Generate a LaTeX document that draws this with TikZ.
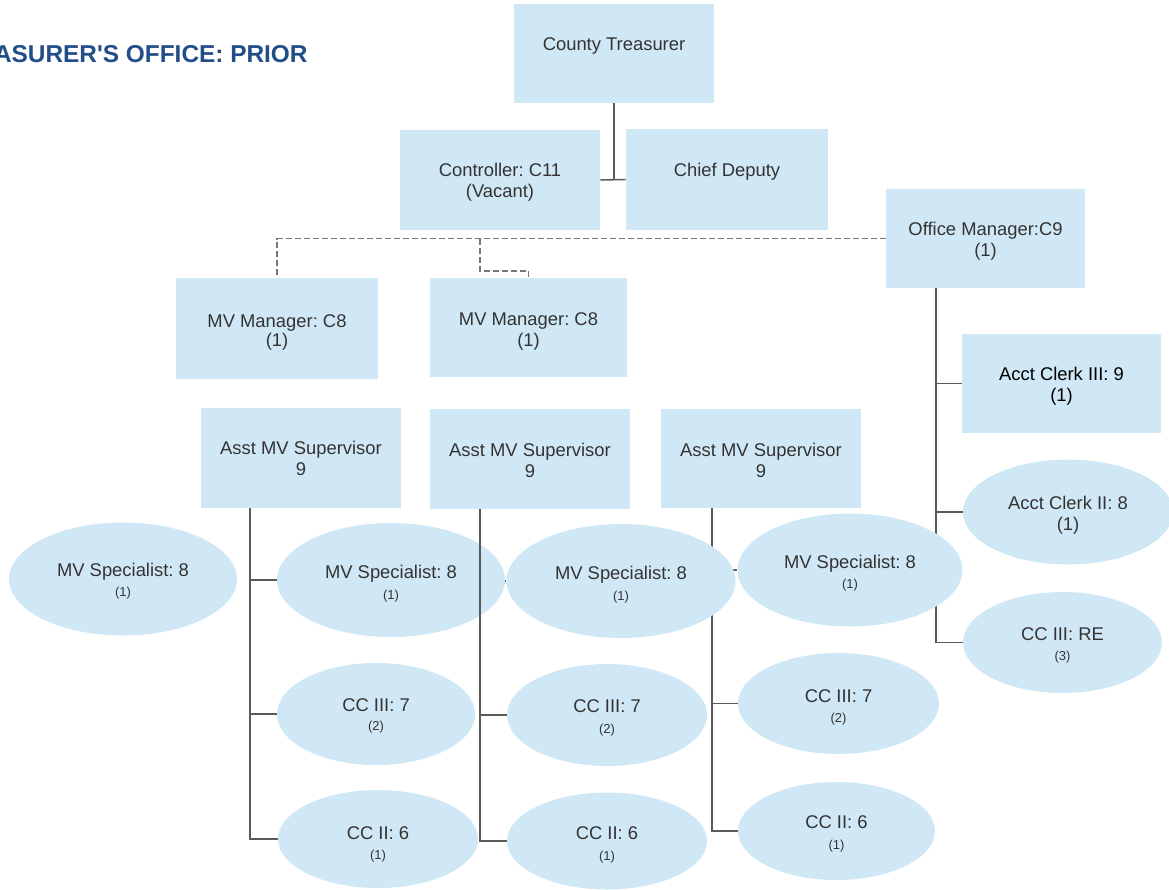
\documentclass[tikz,border=0pt]{standalone}
\usepackage{fontspec}
\setmainfont{Liberation Sans}
\newfontfamily\titlefont[Ligatures=NoCommon]{Liberation Sans}
\frenchspacing
\usetikzlibrary{shapes.geometric,backgrounds}
\definecolor{boxfill}{RGB}{208,232,245}
\definecolor{txtc}{RGB}{51,51,51}
\definecolor{linec}{RGB}{90,90,90}
\definecolor{dashc}{RGB}{120,120,120}
\definecolor{titlec}{RGB}{33,77,136}
\newcommand\RBox[5]{\node[box,minimum width=#4*0.5pt,minimum height=#5*0.5pt] (#1) at (#2,#3) {};}
\newcommand\OBox[5]{\node[oval,minimum width=#4*0.5pt,minimum height=#5*0.5pt] (#1) at (#2,#3) {};}
\newcommand\TL[4]{\node[txt] (#1) at (#2,#3+6.5) {#4};}
\newcommand\SL[4]{\node[sm] (#1) at (#2,#3+4.6) {#4};}
\begin{document}
\begin{tikzpicture}[x=0.5pt,y=-0.5pt,
  box/.style={rectangle,fill=boxfill,draw=none,inner sep=0pt},
  oval/.style={ellipse,fill=boxfill,draw=none,inner sep=0pt},
  txt/.style={anchor=base,inner sep=0pt,text=txtc,font=\fontsize{9.2}{11}\selectfont},
  sm/.style={anchor=base,inner sep=0pt,text=txtc,font=\fontsize{6.5}{8}\selectfont},
  conn/.style={draw=linec,line width=0.75pt},
  dconn/.style={draw=dashc,line width=0.65pt,dash pattern=on 3pt off 1.5pt}]
\useasboundingbox (0,0) rectangle (1169,890);

% title
\node[anchor=base east,inner sep=0pt,text=titlec,font=\titlefont\bfseries\fontsize{12.2}{14}\selectfont] (title) at (308,62) {ASURER\textquotesingle S OFFICE: PRIOR};

% boxes
\RBox{ct}{614}{53.5}{200}{99}
\TL{ctt}{614}{44}{County Treasurer}
\RBox{ctrl}{500}{180}{200}{100}
\TL{ctrlt}{500}{170}{Controller: C11}
\TL{ctrlu}{500}{191}{(Vacant)}
\RBox{cd}{727}{179.5}{202}{101}
\TL{cdt}{727}{170}{Chief Deputy}
\RBox{om}{985.5}{238.5}{199}{99}
\TL{omt}{985.5}{229}{Office Manager:C9}
\TL{omu}{985.5}{250}{(1)}
\RBox{mv1}{277}{328.5}{202}{101}
\TL{mv1t}{277}{321}{MV Manager: C8}
\TL{mv1u}{277}{340}{(1)}
\RBox{mv2}{528.5}{327.5}{197}{99}
\TL{mv2t}{528.5}{319}{MV Manager: C8}
\TL{mv2u}{528.5}{340}{(1)}
\RBox{ac3}{1061.5}{383.5}{199}{99}
\node[txt,text=black] (ac3t) at (1061.5,374+6.5) {Acct Clerk III: 9};
\node[txt,text=black] (ac3u) at (1061.5,395+6.5) {(1)};
\RBox{s1}{301}{458}{200}{100}
\TL{s1t}{301}{448}{Asst MV Supervisor}
\TL{s1u}{301}{469}{9}
\RBox{s2}{530}{459}{200}{100}
\TL{s2t}{530}{450}{Asst MV Supervisor}
\TL{s2u}{530}{471}{9}
\RBox{s3}{761}{458.5}{200}{99}
\TL{s3t}{761}{450}{Asst MV Supervisor}
\TL{s3u}{761}{471}{9}

% ellipses
\OBox{e1}{123}{579}{228}{113}
\TL{e1t}{123}{570}{MV Specialist: 8}
\SL{e1u}{123}{592}{(1)}
\OBox{e2}{391}{580}{228}{114}
\TL{e2t}{391}{572}{MV Specialist: 8}
\SL{e2u}{391}{595}{(1)}
\OBox{e3}{621}{581}{229}{114}
\TL{e3t}{621}{573}{MV Specialist: 8}
\SL{e3u}{621}{596}{(1)}
\OBox{e4}{850}{570}{225}{113}
\TL{e4t}{850}{562}{MV Specialist: 8}
\SL{e4u}{850}{584}{(1)}
\OBox{e5}{1068}{512}{210}{105}
\TL{e5t}{1068}{503}{Acct Clerk II: 8}
\TL{e5u}{1068}{524}{(1)}
\OBox{e6}{1062.5}{642.5}{199}{101}
\TL{e6t}{1062.5}{634}{CC III: RE}
\SL{e6u}{1062.5}{656}{(3)}
\OBox{e7}{376}{714}{198}{102}
\TL{e7t}{376}{705}{CC III: 7}
\SL{e7u}{376}{726}{(2)}
\OBox{e8}{607}{715}{200}{102}
\TL{e8t}{607}{706}{CC III: 7}
\SL{e8u}{607}{729}{(2)}
\OBox{e9}{838.5}{703.5}{201}{101}
\TL{e9t}{838.5}{696}{CC III: 7}
\SL{e9u}{838.5}{718}{(2)}
\OBox{e10}{378}{839}{200}{98}
\TL{e10t}{378}{833}{CC II: 6}
\SL{e10u}{378}{855}{(1)}
\OBox{e11}{607}{841}{200}{97}
\TL{e11t}{607}{833}{CC II: 6}
\SL{e11u}{607}{856}{(1)}
\OBox{e12}{836.5}{831}{197}{98}
\TL{e12t}{836.5}{822}{CC II: 6}
\SL{e12u}{836.5}{845}{(1)}

% trunk positions
\coordinate (omx) at (936,0);
\coordinate (s1x) at (250,0);
\coordinate (s2x) at (480,0);
\coordinate (s3x) at (712,0);
\coordinate (dk) at (480,271);

\begin{scope}[on background layer]
  \draw[conn] (ct.south) -- (ct.south |- ctrl.east);
  \draw[conn] (ctrl.east) -- (cd.west);
  \draw[dconn] (om.west) -| (mv1.north);
  \draw[dconn] (om.west -| dk) -- (dk) -| (mv2.north);
  \draw[conn] (om.south -| omx) |- (e6.west);
  \draw[conn] (omx |- ac3.west) -- (ac3.west);
  \draw[conn] (omx |- e5.west) -- (e5.west);
  \draw[conn] (s1.south -| s1x) |- (e10.west);
  \draw[conn] (s1x |- e2.west) -- (e2.west);
  \draw[conn] (s1x |- e7.west) -- (e7.west);
  \draw[conn] (s2x |- e3.west) -- (e3.west);
  \draw[conn] (s2x |- e8.west) -- (e8.west);
  \draw[conn] (s3.south -| s3x) |- (e12.west);
  \draw[conn] (s3x |- e4.west) -- (e4.west);
  \draw[conn] (s3x |- e9.west) -- (e9.west);
\end{scope}
\draw[conn] (s2.south -| s2x) |- (e11.west);
\end{tikzpicture}
\end{document}
